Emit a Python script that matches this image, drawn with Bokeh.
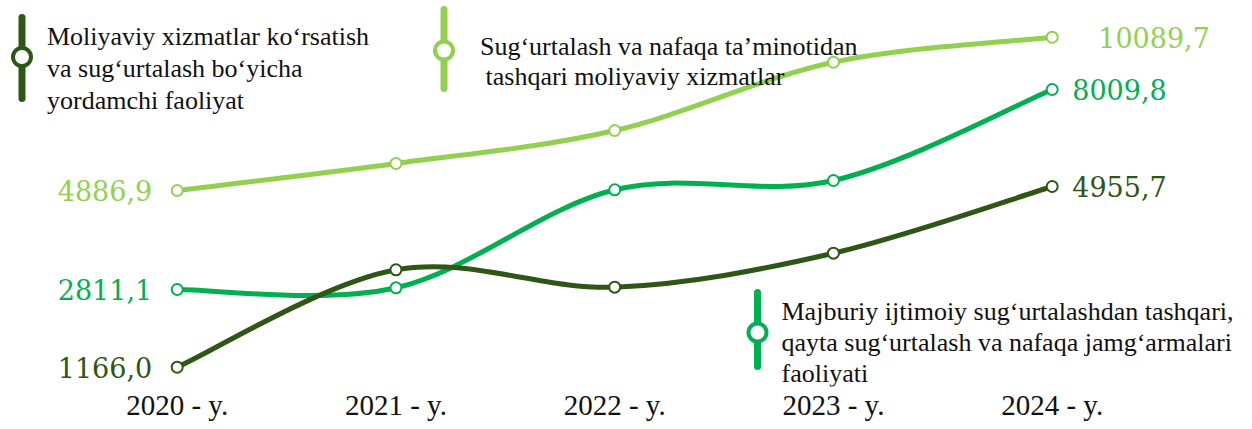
from bokeh.plotting import figure
from bokeh.models import Range1d, LinearAxis, FixedTicker, Label
from bokeh.core.properties import value
from bokeh.embed import file_html
from bokeh.resources import INLINE

# ---------------- data ----------------
years = [2020, 2021, 2022, 2023, 2024]
year_labels = ["2020 - y.", "2021 - y.", "2022 - y.", "2023 - y.", "2024 - y."]

aux_name = ["Moliyaviy xizmatlar ko\u2018rsatish", "va sug\u2018urtalash bo\u2018yicha", "yordamchi faoliyat"]
aux_vals = [1166.0, 3209.0, 2844.0, 3557.0, 4955.7]

fin_name = ["Sug\u2018urtalash va nafaqa ta\u2019minotidan", "tashqari moliyaviy xizmatlar"]
fin_vals = [4886.9, 5803.0, 6923.0, 9241.0, 10089.7]

ins_name = ["Majburiy ijtimoiy sug\u2018urtalashdan tashqari,",
            "qayta sug\u2018urtalash va nafaqa jamg\u2018armalari",
            "faoliyati"]
ins_vals = [2811.1, 2855.0, 5403.0, 5644.0, 8009.8]

# ---------------- styles ----------------
C_DARK = "#2E5614"
C_MID = "#00B050"
C_LIGHT = "#92D050"
SERIF = "Liberation Serif"
NUM_FONT = "DejaVu Serif"

FW, FH = 1236, 386

p = figure(frame_width=FW, frame_height=FH, output_backend="svg", toolbar_location=None,
           x_axis_location=None, y_axis_location=None,
           x_range=Range1d(2019.1922, 2024.8425), y_range=Range1d(761.2, 8856.5),
           min_border_left=0, min_border_right=0, min_border_top=0, min_border_bottom=0)
p.outline_line_color = None
p.grid.visible = False
p.background_fill_color = "white"
p.border_fill_color = "white"

p.extra_y_ranges = {
    "aux": Range1d(761.2, 8856.5),
    "ins": Range1d(289.7, 10323.2),
    "fin": Range1d(-1765.1, 11335.2),
    "px": Range1d(FH, 0),
}
p.extra_x_ranges = {"px": Range1d(0, FW)}

axis = LinearAxis(ticker=FixedTicker(ticks=years),
                  major_label_overrides={y: l for y, l in zip(years, year_labels)})
axis.axis_line_color = None
axis.major_tick_line_color = None
axis.minor_tick_line_color = None
axis.major_tick_out = 0
axis.major_tick_in = 0
axis.major_label_standoff = 2
axis.major_label_text_font = SERIF
axis.major_label_text_font_size = "29px"
axis.major_label_text_color = "#111111"
p.add_layout(axis, "below")


def smooth(xs, ys):
    n = len(xs)
    seg = dict(x0=[], y0=[], x1=[], y1=[], cx0=[], cy0=[], cx1=[], cy1=[])
    for i in range(n - 1):
        a = max(i - 1, 0)
        b = min(i + 2, n - 1)
        seg["x0"].append(xs[i]); seg["y0"].append(ys[i])
        seg["x1"].append(xs[i + 1]); seg["y1"].append(ys[i + 1])
        seg["cx0"].append(xs[i] + (xs[i + 1] - xs[a]) / 6)
        seg["cy0"].append(ys[i] + (ys[i + 1] - ys[a]) / 6)
        seg["cx1"].append(xs[i + 1] - (xs[b] - xs[i]) / 6)
        seg["cy1"].append(ys[i + 1] - (ys[b] - ys[i]) / 6)
    return seg


def fmt(v):
    return f"{v:.1f}".replace(".", ",")


series = [
    ("fin", fin_vals, C_LIGHT, 46),
    ("ins", ins_vals, C_MID, 20),
    ("aux", aux_vals, C_DARK, 20),
]

for rname, vals, col, roff in series:
    s = smooth(years, vals)
    p.bezier(x0=s["x0"], y0=s["y0"], x1=s["x1"], y1=s["y1"],
             cx0=s["cx0"], cy0=s["cy0"], cx1=s["cx1"], cy1=s["cy1"],
             line_color=col, line_width=5, line_cap="round", y_range_name=rname)

for rname, vals, col, roff in series:
    p.scatter(x=years, y=vals, marker="circle", size=11, fill_color="white",
              line_color=col, line_width=2, y_range_name=rname)
    p.text(x=[years[0]], y=[vals[0]], text=[fmt(vals[0])], x_offset=-25,
           text_align="right", text_baseline="middle", text_color=col,
           text_font=value(NUM_FONT), text_font_size="27px", y_range_name=rname)
    p.text(x=[years[-1]], y=[vals[-1]], text=[fmt(vals[-1])], x_offset=roff,
           text_align="left", text_baseline="middle", text_color=col,
           text_font=value(NUM_FONT), text_font_size="27px", y_range_name=rname)

# ---------------- legend keys (screen-pixel range) ----------------
legends = [
    (21.5, 17, 98, 56.5, C_DARK, [46.5, 46.5, 46.5], [36, 68, 99.5], aux_name),
    (443.5, 9, 88, 50, C_LIGHT, [479.5, 485], [46, 76], fin_name),
    (757, 292, 366, 332, C_MID, [781, 781, 781], [311, 342, 373], ins_name),
]
for lx, ly0, ly1, lcy, col, txs, tys, lines in legends:
    p.segment(x0=[lx], y0=[ly0], x1=[lx], y1=[ly1], line_color=col, line_width=7,
              line_cap="round", x_range_name="px", y_range_name="px")
    p.scatter(x=[lx], y=[lcy], marker="circle", size=18, fill_color="white",
              line_color=col, line_width=4, x_range_name="px", y_range_name="px")
    for tx, ty, line in zip(txs, tys, lines):
        p.add_layout(Label(x=tx, y=ty, text=line, x_range_name="px", y_range_name="px",
                           text_align="left", text_baseline="alphabetic",
                           text_color="#111111", text_font=SERIF,
                           text_font_size="26px"))

open("out.html", "w").write(file_html(p, INLINE))
